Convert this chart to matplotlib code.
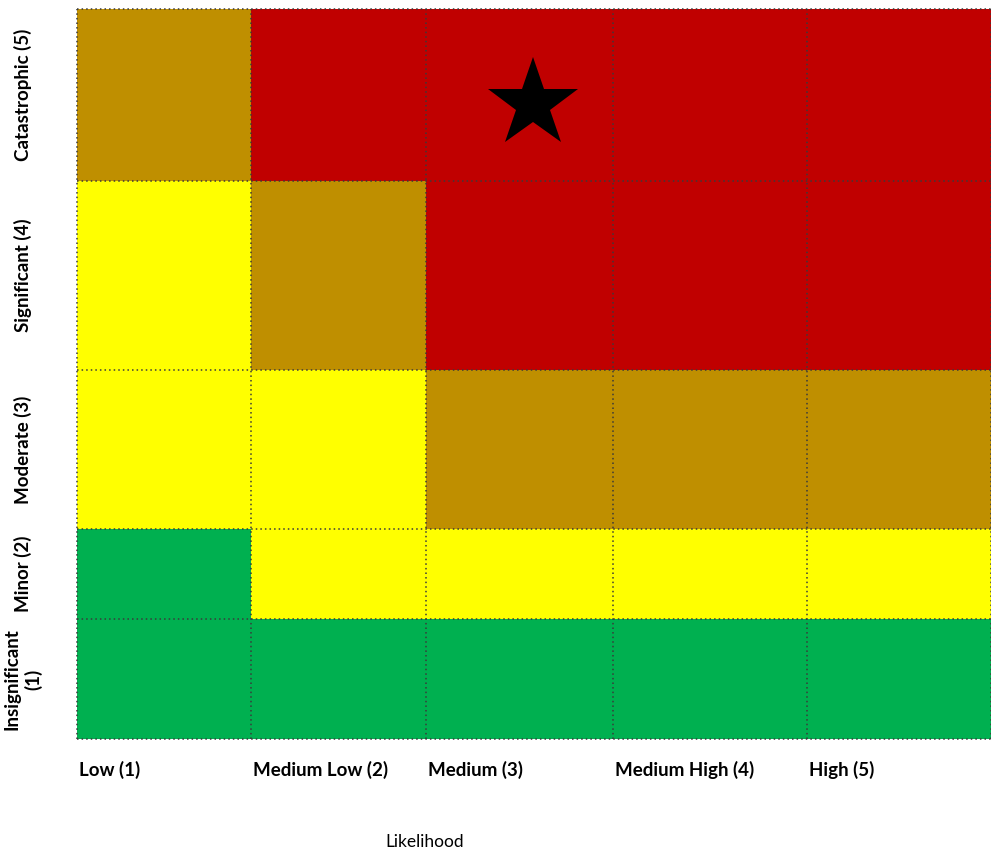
import matplotlib.pyplot as plt
import numpy as np
from matplotlib.colors import ListedColormap

# Risk matrix: rows = impact (1 -> 5, bottom to top), cols = likelihood (1 -> 5)
likelihood_labels = ["Low (1)", "Medium Low (2)", "Medium (3)", "Medium High (4)", "High (5)"]
impact_labels = ["Insignificant\n(1)", "Minor (2)", "Moderate (3)", "Significant (4)", "Catastrophic (5)"]

# 0 = low (green), 1 = medium (yellow), 2 = high (amber), 3 = extreme (red)
risk_levels = [
    [0, 0, 0, 0, 0],  # Insignificant
    [0, 1, 1, 1, 1],  # Minor
    [1, 1, 2, 2, 2],  # Moderate
    [1, 2, 3, 3, 3],  # Significant
    [2, 3, 3, 3, 3],  # Catastrophic
]
star_likelihood = 3
star_impact = 5

_COLORS = ["#00B050", "#FFFF00", "#BF8F00", "#C00000"]
# uneven cell sizes as drawn in the original
_COL_WIDTHS = [174, 175, 187, 194, 184]
_ROW_HEIGHTS = [120, 90, 159, 189, 172]
_FONT = "Lato"

x_edges = np.concatenate([[0], np.cumsum(_COL_WIDTHS)])
y_edges = np.concatenate([[0], np.cumsum(_ROW_HEIGHTS)])

fig = plt.figure(figsize=(9.91, 8.49), dpi=100)
ax = fig.add_axes([77 / 991, 110 / 849, 914 / 991, 730 / 849])

ax.pcolormesh(x_edges, y_edges, np.array(risk_levels),
              cmap=ListedColormap(_COLORS), vmin=-0.5, vmax=3.5)

for x in x_edges:
    ax.axvline(x, color="#3a3a3a", linestyle=(0, (1, 2)), linewidth=1.1, clip_on=False)
for y in y_edges:
    ax.axhline(y, color="#3a3a3a", linestyle=(0, (1, 2)), linewidth=1.1, clip_on=False)

# star marker, placed a little right of the cell centre as in the original
sx = x_edges[star_likelihood - 1] + 0.57 * _COL_WIDTHS[star_likelihood - 1]
sy = y_edges[star_impact - 1] + 0.45 * _ROW_HEIGHTS[star_impact - 1]
ax.plot(sx, sy, marker="*", markersize=68, color="black", markeredgewidth=0)

ax.set_xlim(x_edges[0], x_edges[-1])
ax.set_ylim(y_edges[0], y_edges[-1])
ax.set_xticks([])
ax.set_yticks([])
for s in ax.spines.values():
    s.set_visible(False)

for i, lab in enumerate(likelihood_labels):
    ax.text(x_edges[i] + 2, -31, lab, ha="left", va="center",
            fontsize=13.5, fontweight="bold", family=_FONT)
for j, lab in enumerate(impact_labels):
    yc = (y_edges[j] + y_edges[j + 1]) / 2
    ax.text(-54, yc, lab, ha="center", va="center", rotation=90,
            fontsize=13.5, fontweight="bold", family=_FONT, linespacing=1.25)

ax.text(308, -103, "Likelihood", ha="left", va="center", fontsize=12.5, family=_FONT)

fig.savefig("out.png", dpi=100)
